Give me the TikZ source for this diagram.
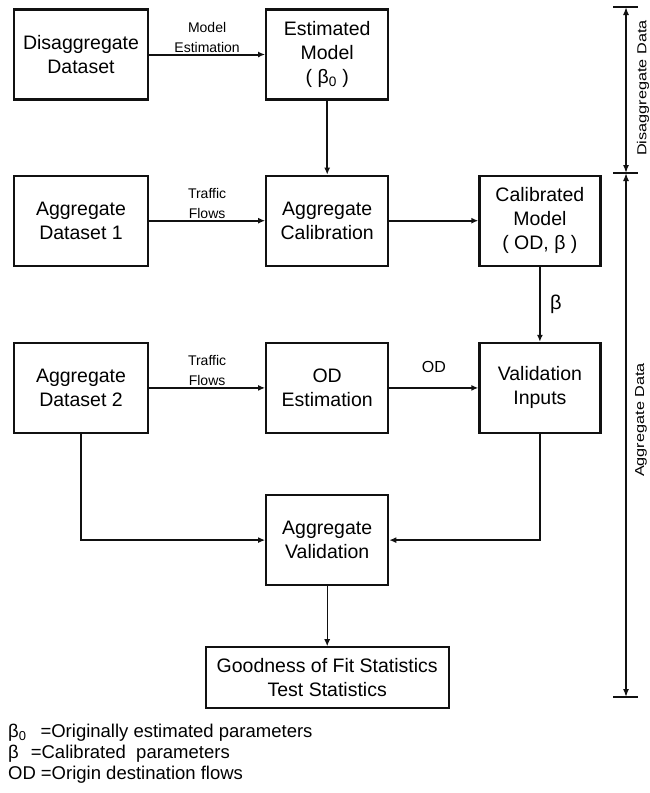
\documentclass[tikz,border=0pt]{standalone}
\usepackage{fontspec}
\setmainfont{Liberation Sans}
\usetikzlibrary{arrows.meta,positioning}
\definecolor{inkblack}{HTML}{111111}
\tikzset{
  procbox/.style={draw=inkblack,line width=2.2pt,align=center,minimum width=122pt,
                  minimum height=90pt,inner sep=2pt,font=\fontsize{19.5}{24}\selectfont},
  databox/.style={procbox,minimum width=134pt},
  flow/.style={-{Latex[length=7pt,width=6pt]},line width=2pt,draw=inkblack},
  thinflow/.style={flow,line width=1.2pt},
  flowlabel/.style={font=\fontsize{14}{20}\selectfont,align=center,inner sep=1pt},
  dimline/.style={{Latex[length=8pt,width=6pt]}-{Latex[length=8pt,width=6pt]},
                  line width=1.5pt,draw=inkblack},
  dimtick/.style={line width=1.8pt,draw=inkblack},
  dimlabel/.style={font=\fontsize{13}{15}\selectfont,rotate=90,inner sep=0pt},
  legendtext/.style={font=\fontsize{18.5}{21}\selectfont,anchor=west,inner sep=0pt}
}

\begin{document}
\begin{tikzpicture}[x=1pt,y=1pt]
    \useasboundingbox (0,0) rectangle (649,-793);

    \node[databox] (disagg) at (81,-54.5) {Disaggregate\\Dataset};
    \node[procbox,right=116pt of disagg] (estmodel) {Estimated\\Model\\( β\textsubscript{0} )};

    \node[procbox,below=74pt of estmodel] (aggcal) {Aggregate\\Calibration};
    \node[databox,left=116pt of aggcal] (aggdata1) {Aggregate\\Dataset 1};
    \node[procbox,right=89pt of aggcal,minimum width=121pt] (calmodel) {Calibrated\\Model\\( OD, β )};

    \node[databox,below=75pt of aggdata1] (aggdata2) {Aggregate\\Dataset 2};
    \node[procbox,below=75pt of aggcal] (odest) {OD\\Estimation};
    \node[procbox,below=75pt of calmodel,minimum width=121pt] (valinp) {Validation\\Inputs};

    \node[procbox,below=60pt of odest] (aggval) {Aggregate\\Validation};
    \node[procbox,below=60pt of aggval,minimum width=243pt,minimum height=61pt] (gof) {Goodness of Fit Statistics\\Test Statistics};

    \draw[flow] (disagg) -- node[flowlabel,above]{Model\\Estimation} (estmodel);
    \draw[flow,line width=1.6pt] (estmodel) -- (aggcal);
    \draw[flow] (aggdata1) -- node[flowlabel,above]{Traffic\\Flows} (aggcal);
    \draw[flow] (aggcal) -- (calmodel);
    \draw[flow] (calmodel) -- node[right=6pt,font=\fontsize{20}{20}\selectfont]{β} (valinp);
    \draw[flow] (aggdata2) -- node[flowlabel,above]{Traffic\\Flows} (odest);
    \draw[flow] (odest) -- node[flowlabel,above=13pt,font=\fontsize{16}{16}\selectfont]{OD} (valinp);
    \draw[flow] (aggdata2) |- (aggval);
    \draw[flow] (valinp) |- (aggval);
    \draw[thinflow] (aggval) -- (gof);

    % data range markers on the right
    \coordinate (dimtop) at (626,-7);
    \coordinate (dimmid) at (626,-173);
    \coordinate (dimbot) at (626,-697);
    \foreach \c in {dimtop,dimmid,dimbot}
      \draw[dimtick] ([xshift=-13pt]\c) -- ([xshift=12pt]\c);
    \draw[dimline] (dimtop) -- (dimmid);
    \draw[dimline] (dimmid) -- (dimbot);
    \node[dimlabel] (disagglabel) at (643,-88) {\scalebox{1.25}[1]{Disaggregate Data}};
    \node[dimlabel] (agglabel) at (641,-420) {\scalebox{1.25}[1]{Aggregate Data}};

    % legend
    \node[legendtext] (leg1) at (8,-733) {β\textsubscript{0}\hspace{14pt}=Originally estimated parameters};
    \node[legendtext] (leg2) at (8,-754) {β\hspace{12pt}=Calibrated\ \ parameters};
    \node[legendtext] (leg3) at (8,-775) {OD\hspace{5pt}=Origin destination flows};
\end{tikzpicture}
\end{document}
